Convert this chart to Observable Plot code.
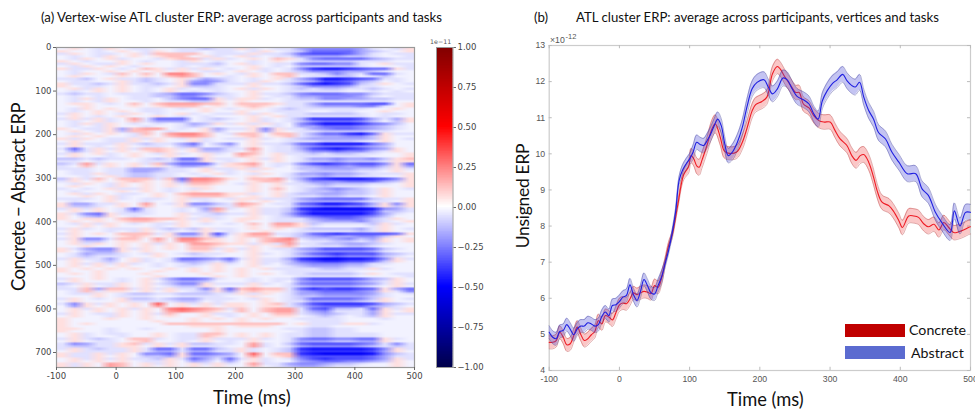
<!DOCTYPE html>
<html><head><meta charset="utf-8">
<style>
html,body{margin:0;padding:0;background:#fff;overflow:hidden}
#root{position:relative;width:975px;height:409px;font-family:Lato,"Open Sans",sans-serif;color:#111}
.t{position:absolute;white-space:nowrap;line-height:1}
.v{position:absolute;white-space:nowrap;line-height:1;transform:translate(-50%,-50%) rotate(-90deg)}
.box{position:absolute}
</style>
<script src="https://cdn.jsdelivr.net/npm/d3@7"></script>
<script src="https://cdn.jsdelivr.net/npm/@observablehq/plot@0.6"></script>
</head><body><div id="root"></div>
<script>
// Heatmap, read by eye: 0 near white, 1-9 blue, a-e red. Left half | right half.
const heatRows = [
"0a01a0110011211 a1011344443101a","a0010a01a011011 01a01255553210a",
"1a0110a1bbbb011 1a1125666531011","0101a0a0abb0a10 a10113333221001",
"01a0a1001abb1a1 0a0ba1455553211","a0100a01001a010 010a01222211100",
"1a011a0a0011120 a10114554410a11","01a0a0100010110 0a0102222210001",
"a11a010ba1a1a01 0a10147887655a1","0100a0a0a0a0110 a01012444332100",
"01a01b0b0ddb0a0 1a0bb1124215510","0a000a0a0bcb001 0a0ab0112201200",
"1120a11210a1321 010a13588765110","01100a1210a3431 01a012366532010",
"a1121a1121a4411 1a1125787621a01","a0110a0110a2210 0a0012444311000",
"0a1a0a010a10110 a1a012122112101","010a0a010a01010 0a0011111001010",
"121101112355421 0a1124555442111","010100112244211 0a0113344431011",
"01a1a01102455a1 aa1012244332211","0101a00101122a0 a00011111111100",
"0aa010b0bcccbb0 bbba1135555660a","00a000a0abbb0a0 aba01123334410a",
"01a0a0011010a01 0a01211111100a0","010a0a011000a00 a00111001100a00",
"1a0a01a010a1011 a1a011222210110","0a010a00a010100 0a0a11111110100",
"1a1a10c15550121 0a101377776313a","010a10b13330110 0a101245554202a",
"01a1a01010132a1 a1a104688875420","0101a0010012100 0a0103355543210",
"a011a3bcc010a31 1a4a11345543210","0a01a2bb0100a20 0a3a01122221100",
"01a0a01b0cddb01 bb0bb1355785a11","0a0a001a0bccb00 ab0ab1233442a00",
"a1a011a1a01a101 1a1012333332a01","0a0011a0a00a100 0a0011122210a00",
"1a111a121135024 0a1125688885300","0a010a011023012 0a0113455543200",
"151a1a1bba1a331 1c01136787643a0","031a0a0aba0a221 0b01124454421a0",
"1a0a10a01a10a10 cb0a1121221100a","0a0010a00a00a00 ba0a0111111000a",
"221211012155a11 0a1a013343342ab","110100011133a01 0a0a012232221aa",
"21c1a0a1b35551a bc01146765664a5","10b0a0a0a13320a ab01023443442a3",
"111011333110a11 a1a0022333221a1","011011332110a01 0a00012222110a0",
"011a112211010a1 01a01334332111a","0010a1221100100 0a001223221100a",
"2a1b0bbb1b5ddca 0bbc1367888764a","1a0a0aba0a3ccb0 0abb0244455532a",
"01a01a0a0a1bba0 1a0a1123222110a","0a001a0a0a0aa00 0a0a0112111000a",
"1010a11a0101a00 0a0b01234321a01","01000a0a010a000 0a0a01223221a00",
"0a1a0110a0bccca a10a12233221a00","00a0a100a0abbba 0a0a11122110a00",
"1110a10110a1101 aa111345555211a","0100a00100a0100 a0a01233332110a",
"a3311a0c01a4421 cb0115688763a4a","a2210a0b00a2211 ba0013455442a2a",
"1a1a015100103c1 0a1127899998431","0a0a013100102b0 0a1125777776221",
"a145a11100a1121 1a1136888886310","a023a01000a0110 0a0124566654200",
"a0aa0bccbba1a10 aa01113455421a0","0a0a0abba0a0a00 a0011123334210a",
"01a1a01011a0101 0b0cca211112a10","00a0a00010a0000 0a0bba100001a00",
"1a10111a1212a11 0a0a01222231a01","0a00101a0101a01 00a001111121a00",
"1a0a0bbb1a44a61 acc11256766665a","0a000aba0a22a30 abb0123433442a0",
"1a441bb0c0ddba0 a0bcd1223423a0a","0a220aa0b0ccaa0 a0bcc0112212a0a",
"0a1a0a0a1a0ccba a1a1c1122332100","00a00a0a0a0bba0 0a0ab0111221000",
"a1344a1a0a0bb1a 1a0113466665210","a0233a0a000aa0a 0a0012344443100",
"01322101a012110 0a1013567666321","01211100a001100 0a0012345444210",
"1a1130a10155435 1a11378998874a1","0a0120a10133213 0a11256776652a0",
"0a1a1a1010121a1 0a1023444331100","0a0a0a0010110a0 0a0012333221000",
"a0a0a0a00a0a0a0 a0a11112211a100","a00a0000a00a0a0 a00011111100000",
"0a0a000a0000a00 a0a01122221a011","000a0000a0000a0 a00001111100001",
"1a0a010a1355410 0101146666532a0","0a00010a0233200 0101034444321a0",
"21a11a0a1244a11 1a10145555431a1","10a01a0a0122a00 0a00123333210a0",
"11b3bb1a1a114a5 bcbb15767765a35","01b1aa0a0a012a3 abaa13455543a14",
"011a01221122211 a1a013344443101","000a01110011110 0a0012233332100",
"1a010a221233111 01a012555542a01","0a000a111122010 00a011333321a00",
"14a1a0a0e0a1a1a a0ab13677776321","03a0a0a0c0a0a0a a0aa12455553210",
"0a1a0a1a0dedcb1 b0bcc1562215a1a","0a0a0a0a0cdcba0 b0bcc1341113a0a",
"1a011a0a1b00a11 0a0bb1232113a11","0a001a0a0a00a01 0a0aa0121012a00",
"a000a00a000a0a0 a0a001111000100","a0000000a00a000 a00000111000000",
"a0a000000bbbbbb bbbb0a111aa1000","a0000000000aaa0 aaa000110000000",
"aa00100100000a0 000011221100000","a000100000000a0 000001221100000",
"0a101100a011bb0 a0a011221111000","0a100100a011ba0 a0a011221111000",
"1a1210bb1011a11 1a1014554455a10","0a0110ab0010a01 0a0013332233a00",
"14311ab1a1a2211 0c1025666654141","12211aa0a0a1110 0c1013444432121",
"1a1211a15515521 a101278888874a1","0a1111a13313311 a101267777763a0",
"a11a1a0445a5543 0e0bb7899998421","a11a0a0223a3322 0c0ab5666665311",
"0a1a1a112a15315 1a10146766653a1","0a0a0a011a03203 0a10034554432a0",
"a1a0cb0a1a0a1a1 0c11344322100a0","a1a0cb0a0a0a0a0 0b01233211000a0"
];
const heatCols = 30;
const blueUnit = 0.058;
const redUnit = 0.062;
const paleLevel = -0.025;
const timeExtent = [-100, 500];
const vertexExtent = [0, 734.4];
const heatTicksX = [-100,0,100,200,300,400,500];
const heatTicksY = [0,100,200,300,400,500,600,700];
const colorDomain = [-1,-0.5,0,0.5,1];
const colorRange = ["#00004c","#0000ff","#ffffff","#ff0000","#7f0000"];
const colorTicks = [-1,-0.75,-0.5,-0.25,0,0.25,0.5,0.75,1];

const timeConcrete = [-100,-95,-90,-85,-80,-75,-70,-65,-60,-55,-50,-45,-40,-35,-30,-25,-20,-15,-10,-5,0,5,10,15,20,25,30,35,40,45,50,55,60,65,70,75,
83,91.5,98.6,102,105.7,110.4,113.7,117.5,124.6,131.8,136.5,143.6,149,154.5,167,
175,182,189,194,203,210,218,225,229,236,244,251,256,262,270,277,284,291,300,307,314,324,331,337,343,348,355,362,367,374,384,390,398,403,412,419,426,433,440,448,455,462,469,476,483,490,497,500];
const concrete = [4.78,4.78,4.83,5.06,4.92,4.71,4.74,4.97,5.2,5.0,4.83,4.88,4.99,5.08,5.38,5.29,5.52,5.48,5.4,5.6,5.82,5.87,5.85,5.98,6.15,6.1,6.15,6.19,6.17,6.13,6.35,6.3,6.55,7.0,7.46,7.74,
8.57,9.42,9.65,9.95,9.87,9.66,9.63,9.82,10.23,10.69,10.83,10.46,10.09,10.02,10.05,
10.32,10.73,11.19,11.36,11.45,11.57,12.22,12.42,12.35,12.12,11.89,11.7,11.7,11.38,11.27,11.05,10.92,10.88,10.88,10.65,10.42,10.23,9.95,9.82,9.95,9.98,9.77,9.35,8.98,8.66,8.56,8.42,8.15,7.96,8.28,8.28,8.24,8.07,7.98,8.05,7.89,8.1,7.96,7.82,7.84,7.89,7.96,7.98];
const concreteHalf = [.18,.18,.18,.18,.18,.18,.18,.18,.18,.18,.18,.18,.18,.18,.18,.18,.18,.18,.18,.18,.18,.18,.18,.18,.18,.18,.18,.18,.18,.18,.18,.18,.18,.12,.1,.1,
.1,.14,.18,.2,.2,.22,.22,.22,.22,.25,.25,.22,.2,.18,.18,
.2,.2,.2,.2,.2,.2,.2,.2,.2,.2,.2,.2,.2,.2,.2,.2,.2,.2,.2,.2,.2,.2,.22,.22,.22,.22,.22,.22,.2,.2,.2,.2,.2,.2,.2,.2,.2,.2,.2,.2,.2,.2,.2,.2,.2,.2,.2,.2];
const timeAbstract = [-100,-95,-90,-85,-80,-75,-70,-65,-60,-55,-50,-45,-40,-35,-30,-25,-20,-15,-10,-5,0,5,10,15,20,25,30,35,40,45,50,55,60,65,70,75,80,
85,90,95,100,105,110,115,120,125,130,135,140,145,150,155,
161,168,175,182,189,196,206,212,218,225,233,239,246,253,262,270,277,283,289,296,303,310,318,324,331,336,342,348,355,362,369,379,388,398,410,422,431,440,450,459,471,477,485,493,500];
const abstractERP = [5.06,4.92,4.88,5.08,5.11,5.27,5.14,4.99,5.15,5.23,5.23,5.32,5.29,5.23,5.27,5.5,5.62,5.52,5.8,5.82,5.91,6.03,6.08,6.37,6.1,5.94,6.19,6.52,6.35,6.15,6.12,6.35,6.59,6.95,7.32,7.79,8.39,
9.26,9.55,9.72,9.86,10.05,10.32,10.26,10.23,10.37,10.55,10.78,10.96,10.78,10.28,9.95,
10.05,10.32,10.73,11.33,11.8,11.98,12.05,11.85,11.66,11.8,12.1,12.05,11.8,11.59,11.5,11.38,11.1,10.96,11.47,11.75,11.94,12.05,12.2,12.03,11.89,11.85,11.98,11.57,11.2,10.96,10.59,10.41,10.05,9.77,9.45,9.45,9.03,8.85,8.38,8.1,7.82,8.42,8.0,8.38,8.38];
const abstractHalf = [.18,.18,.18,.18,.18,.18,.18,.18,.18,.18,.18,.18,.18,.18,.18,.18,.18,.18,.18,.18,.18,.18,.18,.18,.18,.18,.18,.18,.18,.18,.18,.18,.18,.1,.1,.1,.1,
.12,.15,.15,.15,.2,.2,.2,.2,.2,.2,.2,.2,.2,.2,.2,
.22,.22,.22,.22,.22,.22,.22,.22,.22,.22,.22,.22,.22,.22,.22,.22,.22,.22,.22,.22,.22,.22,.22,.22,.22,.22,.22,.22,.22,.22,.22,.22,.22,.22,.22,.22,.22,.22,.22,.22,.22,.22,.22,.22,.22];
const erpTicksX = [-100,0,100,200,300,400,500];
const erpTicksY = [4,5,6,7,8,9,10,11,12,13];
const legendNames = ["Concrete","Abstract"];

// ---- decode
function decodeCell(c){
  if (c==="0") return paleLevel;
  if (c>="1"&&c<="9") return -(+c)*blueUnit;
  return (c.charCodeAt(0)-96)*redUnit;
}
const heatValues = [];
const badRows = [];
heatRows.forEach((r,i)=>{
  const s=r.replace(/ /g,"");
  if(s.length!==heatCols) badRows.push(i+":"+s.length);
  for(const c of s) heatValues.push(decodeCell(c));
});
if(badRows.length) throw new Error("bad rows "+badRows.join(","));
function table(t,v,h,name){
  if(t.length!==v.length||t.length!==h.length) throw new Error(name+" lengths "+t.length+" "+v.length+" "+h.length);
  return t.map((x,i)=>({t:x,v:v[i],lo:v[i]-h[i],hi:v[i]+h[i]}));
}
const rowsC = table(timeConcrete,concrete,concreteHalf,"concrete");
const rowsA = table(timeAbstract,abstractERP,abstractHalf,"abstract");

const root = document.getElementById("root");
function place(svg,x,y){svg.style.position="absolute";svg.style.left=x+"px";svg.style.top=y+"px";svg.style.maxWidth="none";root.appendChild(svg);}
function text(str,x,y,size,extra){const d=document.createElement("div");d.className="t";d.textContent=str;d.style.left=x+"px";d.style.top=y+"px";d.style.fontSize=size+"px";if(extra)Object.assign(d.style,extra);root.appendChild(d);return d;}

const colorScale = {type:"linear",domain:colorDomain,range:colorRange,clamp:true};

// ---- heatmap
place(Plot.plot({
  width:430,height:409,marginLeft:56,marginRight:16,marginTop:47,marginBottom:42,
  style:{fontFamily:"DejaVu Sans",fontSize:"8.5px",color:"#444",background:"transparent"},
  x:{domain:timeExtent},
  y:{domain:vertexExtent,reverse:true},
  color:colorScale,
  marks:[
    Plot.raster(heatValues,{width:heatCols,height:heatRows.length,x1:timeExtent[0],x2:timeExtent[1],y1:vertexExtent[0],y2:vertexExtent[1]}),
    Plot.frame({stroke:"#999",strokeWidth:1.2}),
    Plot.axisX({ticks:heatTicksX,tickSize:3,tickPadding:2,label:null,tickFormat:d=>String(d),stroke:"#666"}),
    Plot.axisY({ticks:heatTicksY,tickSize:3,tickPadding:2,label:null,tickFormat:d=>String(d),stroke:"#666"})
  ]
}),0,0);

// ---- colour bar
const barSteps = d3.range(-1,1,0.01);
place(Plot.plot({
  width:60,height:409,marginLeft:6,marginRight:37.5,marginTop:47,marginBottom:42,
  style:{fontFamily:"DejaVu Sans",fontSize:"8.5px",color:"#444",background:"transparent"},
  x:{domain:[0,1],axis:null},
  y:{domain:[-1,1]},
  color:colorScale,
  marks:[
    Plot.rect(barSteps,{x1:()=>0,x2:()=>1,y1:d=>d,y2:d=>Math.min(1,d+0.02),fill:d=>d}),
    Plot.frame({stroke:"#999"}),
    Plot.axisY({anchor:"right",ticks:colorTicks,tickSize:2.5,tickPadding:2,label:null,stroke:"#666",tickFormat:d=>d.toFixed(2).replace("-","\u2212")})
  ]
}),430,0);
text("1e\u221211",430,39,6.3,{fontFamily:"DejaVu Sans",color:"#555"});

// ---- ERP line chart
function inward(vals,axis,at,len){
  return axis==="x"
    ? Plot.ruleX(vals,{x:d=>d,y1:()=>at,y2:()=>at+len,stroke:"#bbb",strokeWidth:1})
    : Plot.ruleY(vals,{y:d=>d,x1:()=>at,x2:()=>at+len,stroke:"#bbb",strokeWidth:1});
}
function series(rows,fill,edge,line){
  const o={x:"t",curve:"catmull-rom"};
  return [
    Plot.areaY(rows,{...o,y1:"lo",y2:"hi",fill,fillOpacity:0.32}),
    Plot.line(rows,{...o,y:"lo",stroke:edge,strokeWidth:0.7,strokeOpacity:0.55}),
    Plot.line(rows,{...o,y:"hi",stroke:edge,strokeWidth:0.7,strokeOpacity:0.55}),
    Plot.line(rows,{...o,y:"v",stroke:line,strokeWidth:1.1})
  ];
}
place(Plot.plot({
  width:475,height:409,marginLeft:48.7,marginRight:5,marginTop:45,marginBottom:39,
  style:{fontFamily:"Liberation Sans",fontSize:"8.7px",color:"#555",background:"transparent"},
  x:{domain:timeExtent},
  y:{domain:[4,13]},
  marks:[
    Plot.frame({stroke:"#ccc",strokeWidth:1.2}),
    inward(erpTicksX,"x",4,0.09),inward(erpTicksX,"x",12.91,0.09),
    inward(erpTicksY,"y",-100,4.3),inward(erpTicksY,"y",495.7,4.3),
    ...series(rowsC,"#ef5050","#b03030","#ee1c25"),
    ...series(rowsA,"#4646d8","#3a3a90","#1f1fe0"),
    Plot.axisX({ticks:erpTicksX,tickSize:0,tickPadding:5,label:null,tickFormat:d=>String(d)}),
    Plot.axisY({ticks:erpTicksY,tickSize:0,tickPadding:4,label:null,tickFormat:d=>String(d)})
  ]
}),500,0);
text("\u00d710",550,36,8.7,{fontFamily:"Liberation Sans",color:"#555"});
text("-12",565.5,33,7.5,{fontFamily:"Liberation Sans",color:"#555"});

// ---- titles and labels
text("(a) Vertex-wise ATL cluster ERP: average across participants and tasks",41,11,13.25);
text("(b)",534,11,13.25);
text("ATL cluster ERP: average across participants, vertices and tasks",576,11,13.2);
const v1=document.createElement("div");v1.className="v";v1.textContent="Concrete \u2212 Abstract ERP";v1.style.left="18px";v1.style.top="197px";v1.style.fontSize="18.5px";v1.style.letterSpacing="-0.55px";root.appendChild(v1);
const v2=document.createElement("div");v2.className="v";v2.textContent="Unsigned ERP";v2.style.left="523px";v2.style.top="196px";v2.style.fontSize="17.5px";v2.style.letterSpacing="-0.3px";root.appendChild(v2);
text("Time (ms)",213,388,18.5);
text("Time (ms)",727,390,18.3);

// ---- legend
[["#c00000",324],["#5b6bd0",346]].forEach(([c,y])=>{
  const b=document.createElement("div");b.className="box";
  Object.assign(b.style,{left:"845px",top:y+"px",width:"60px",height:"13px",background:c});
  root.appendChild(b);
});
text(legendNames[0],909,323,14.2);
text(legendNames[1],911,346,14.2);
</script></body></html>
